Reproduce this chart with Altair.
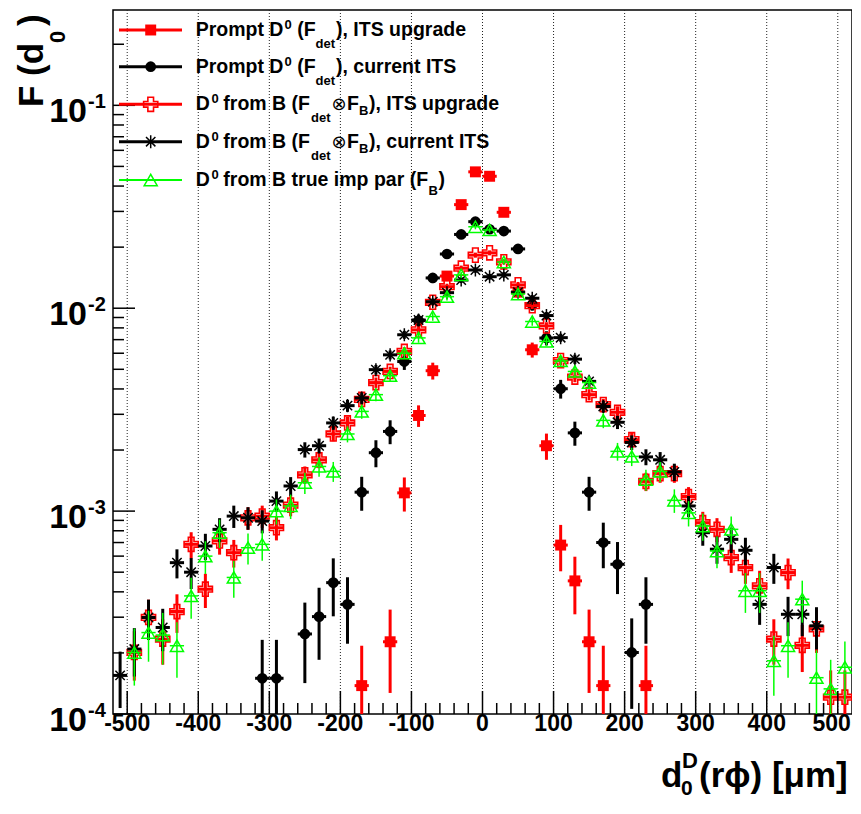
import altair as alt
import pandas as pd

# ---------------- data ----------------
# Prompt D0 (F_det), ITS upgrade  -- red filled squares
rs_x = [-170, -130, -110, -90, -70, -50, -30, -10, 10, 30, 50, 70, 90, 110, 130, 150, 170, 230]
rs_v = [0.000138, 0.000227, 0.00123, 0.00296, 0.00492, 0.0144, 0.0324, 0.047, 0.0447, 0.0297,
        0.012, 0.00624, 0.0021, 0.00068, 0.000453, 0.000227, 0.000138, 0.000138]
rs_e = [7.9e-5, 1.0e-4, 2.35e-4, 3.6e-4, 4.7e-4, 8e-4, 1.2e-3, 1.45e-3, 1.42e-3, 1.16e-3,
        7.3e-4, 5.3e-4, 3.1e-4, 1.75e-4, 1.43e-4, 1.0e-4, 7.9e-5, 7.9e-5]

# Prompt D0 (F_det), current ITS  -- black filled circles
bc_x = [-310, -290, -250, -230, -210, -190, -170, -150, -130, -110, -90, -70, -50, -30, -10,
        10, 30, 50, 70, 90, 110, 130, 150, 170, 190, 210, 230]
bc_v = [0.00015, 0.00015, 0.000248, 0.000302, 0.000444, 0.000347, 0.00124, 0.00194, 0.00247,
        0.00546, 0.00869, 0.0141, 0.0185, 0.0231, 0.0267, 0.0245, 0.024, 0.0196, 0.0104,
        0.00713, 0.00401, 0.00243, 0.00124, 0.0007, 0.000547, 0.000201, 0.000347]
bc_e = [8.2e-5, 8.2e-5, 1.06e-4, 1.17e-4, 1.41e-4, 1.25e-4, 2.36e-4, 2.95e-4, 3.33e-4, 4.96e-4,
        6.25e-4, 8e-4, 9.1e-4, 1.02e-3, 1.1e-3, 1.05e-3, 1.04e-3, 9.4e-4, 6.8e-4, 5.7e-4,
        4.25e-4, 3.3e-4, 2.36e-4, 1.77e-4, 1.57e-4, 9.5e-5, 1.25e-4]

# feed-down bins (centres, um)
fb_x = [-510, -490, -470, -450, -430, -410, -390, -370, -350, -330, -310, -290, -270,
        -250, -230, -210, -190, -170, -150, -130, -110, -90, -70, -50, -30, -10,
        10, 30, 50, 70, 90, 110, 130, 150, 170, 190, 210, 230, 250, 270, 290, 310,
        330, 350, 370, 390, 410, 430, 450, 470, 490, 510]

# D0 from B (F_det x F_B), ITS upgrade -- red open crosses
rc_v = [None, 0.000201, 0.000299, 0.000234, 0.00032, 0.000686, 0.000412, 0.000713, 0.000624,
        0.000927, 0.000945, 0.000828, 0.00107, 0.00151, 0.00179, 0.0024, 0.00272, 0.00355,
        0.0043, 0.00488, 0.00612, 0.00782, 0.0107, 0.01277, 0.01574, 0.01827, 0.01875,
        0.01694, 0.01303, 0.0103, 0.00818, 0.00552, 0.00458, 0.00375, 0.00335, 0.00307,
        0.00225, 0.0014, 0.00153, 0.00153, 0.00118, 0.000877, 0.000813, 0.00059, 0.000527,
        0.000428, 0.000234, 0.000498, 0.000218, 0.000263, 0.000121, 0.000121]
rc_e = [None, 5.5e-5, 6.7e-5, 5.9e-5, 6.9e-5, 1.01e-4, 7.9e-5, 1.03e-4, 9.7e-5, 1.18e-4,
        1.19e-4, 1.11e-4, 1.27e-4, 1.5e-4, 1.64e-4, 1.9e-4, 2.02e-4, 2.31e-4, 2.54e-4, 2.7e-4,
        3.03e-4, 3.42e-4, 4.0e-4, 4.38e-4, 4.86e-4, 5.23e-4, 5.3e-4, 5.04e-4, 4.42e-4, 3.93e-4,
        3.5e-4, 2.88e-4, 2.62e-4, 2.37e-4, 2.24e-4, 2.15e-4, 1.84e-4, 1.45e-4, 1.51e-4, 1.51e-4,
        1.33e-4, 1.15e-4, 1.1e-4, 9.4e-5, 8.9e-5, 8e-5, 5.9e-5, 8.6e-5, 5.7e-5, 6.3e-5,
        4.3e-5, 4.3e-5]

# D0 from B (F_det x F_B), current ITS -- black asterisks
as_v = [0.000155, 0.000209, 0.000299, 0.000267, 0.000557, 0.0005, 0.000673, 0.000813, 0.000945,
        0.000927, 0.000893, 0.00112, 0.00133, 0.00201, 0.0021, 0.00272, 0.00331, 0.00361,
        0.00498, 0.00589, 0.0074, 0.00875, 0.01077, 0.01193, 0.01377, 0.01543, 0.0143, 0.0146,
        0.012, 0.0112, 0.0092, 0.00716, 0.00561, 0.00436, 0.00328, 0.00274, 0.00218, 0.00185,
        0.00179, 0.00156, 0.00106, 0.000783, 0.000649, 0.000726, 0.000641, 0.000347, 0.000527,
        0.00031, 0.00031, 0.000272, None, None]
as_e = [4.8e-5, 5.6e-5, 6.7e-5, 6.3e-5, 9.1e-5, 8.7e-5, 1.0e-4, 1.1e-4, 1.19e-4, 1.18e-4,
        1.16e-4, 1.3e-4, 1.41e-4, 1.74e-4, 1.77e-4, 2.02e-4, 2.23e-4, 2.33e-4, 2.73e-4, 2.97e-4,
        3.33e-4, 3.62e-4, 4.0e-4, 4.23e-4, 4.54e-4, 4.81e-4, 4.63e-4, 4.68e-4, 4.24e-4, 4.1e-4,
        3.71e-4, 3.28e-4, 2.9e-4, 2.56e-4, 2.22e-4, 2.03e-4, 1.81e-4, 1.67e-4, 1.64e-4, 1.53e-4,
        1.26e-4, 1.08e-4, 9.9e-5, 1.04e-4, 9.8e-5, 7.2e-5, 8.9e-5, 6.8e-5, 6.8e-5, 6.4e-5,
        None, None]

# D0 from B true imp par (F_B) -- green open triangles
gt_v = [None, 0.000201, 0.000252, 0.000245, 0.000217, 0.000382, 0.0006, 0.000783, 0.000471,
        0.00066, 0.000686, 0.001, 0.00106, 0.00138, 0.00166, 0.00157, 0.0024, 0.0031, 0.00375,
        0.00465, 0.006, 0.00714, 0.0091, 0.0114, 0.0146, 0.0252, 0.0243, 0.0169, 0.01175,
        0.0086, 0.00686, 0.0055, 0.00488, 0.0043, 0.0028, 0.00197, 0.00186, 0.00143, 0.00157,
        0.00113, 0.00098, 0.000844, 0.000636, 0.000813, 0.000405, 0.000405, 0.000183, 0.000217,
        0.000368, 0.000151, 0.000133, 0.00017]
gt_e = [None, 6.3e-5, 7.1e-5, 7.0e-5, 6.6e-5, 8.7e-5, 1.1e-4, 1.25e-4, 9.7e-5, 1.15e-4,
        1.17e-4, 1.41e-4, 1.46e-4, 1.66e-4, 1.82e-4, 1.77e-4, 2.19e-4, 2.49e-4, 2.74e-4, 3.05e-4,
        3.46e-4, 3.78e-4, 4.27e-4, 4.77e-4, 5.4e-4, 7.1e-4, 6.97e-4, 5.81e-4, 4.85e-4, 4.15e-4,
        3.7e-4, 3.32e-4, 3.12e-4, 2.93e-4, 2.37e-4, 1.98e-4, 1.93e-4, 1.69e-4, 1.77e-4, 1.5e-4,
        1.4e-4, 1.3e-4, 1.13e-4, 1.27e-4, 9.0e-5, 9.0e-5, 6.0e-5, 6.6e-5, 8.6e-5, 5.5e-5,
        5.2e-5, 5.8e-5]

# axis ticks / labels
x_major = [-500, -400, -300, -200, -100, 0, 100, 200, 300, 400, 500]
x_minor = [-480, -460, -440, -420, -380, -360, -340, -320, -280, -260, -240, -220,
           -180, -160, -140, -120, -80, -60, -40, -20, 20, 40, 60, 80, 120, 140, 160, 180,
           220, 240, 260, 280, 320, 340, 360, 380, 420, 440, 460, 480]
x_labels = ["-500", "-400", "-300", "-200", "-100", "0", "100", "200", "300", "400", "500"]
y_major = [1e-4, 1e-3, 1e-2, 1e-1]
y_sup = ["-4", "-3", "-2", "-1"]
y_minor = [2e-4, 3e-4, 4e-4, 5e-4, 6e-4, 7e-4, 8e-4, 9e-4,
           2e-3, 3e-3, 4e-3, 5e-3, 6e-3, 7e-3, 8e-3, 9e-3,
           2e-2, 3e-2, 4e-2, 5e-2, 6e-2, 7e-2, 8e-2, 9e-2, 2e-1]

# ---------------- chart ----------------
W, H = 739, 704
FONT = "Liberation Sans"
RED, GREEN, BLACK = "#ff0000", "#00ff00", "#000000"
ASTER = "M-1,0L1,0M0,-1L0,1M-0.72,-0.72L0.72,0.72M-0.72,0.72L0.72,-0.72"

xs = alt.Scale(domain=[-520, 520], nice=False, zero=False)
ys = alt.Scale(type="log", domain=[1e-4, 0.295], nice=False)
one = pd.DataFrame({"a": [0]})


def frame(xv, vv, ev):
    rows = [(x, v, e) for x, v, e in zip(xv, vv, ev) if v is not None]
    df = pd.DataFrame(rows, columns=["x", "v", "e"])
    df["lo"] = (df["v"] - df["e"]).clip(lower=2e-5)
    df["hi"] = df["v"] + df["e"]
    df["xl"] = df["x"] - 10
    df["xr"] = df["x"] + 10
    return df


def series(df, color, shape, size, filled, sw, ebw):
    base = alt.Chart(df)
    vbar = base.mark_rule(color=color, strokeWidth=ebw, clip=True).encode(
        x=alt.X("x:Q", scale=xs, axis=None),
        y=alt.Y("lo:Q", scale=ys, axis=None), y2="hi:Q")
    hbar = base.mark_rule(color=color, strokeWidth=ebw, clip=True).encode(
        x=alt.X("xl:Q", scale=xs, axis=None), x2="xr:Q",
        y=alt.Y("v:Q", scale=ys, axis=None))
    pts = base.mark_point(shape=shape, size=size, filled=filled, color=color,
                          opacity=1, strokeWidth=sw, clip=True).encode(
        x=alt.X("x:Q", scale=xs, axis=None),
        y=alt.Y("v:Q", scale=ys, axis=None))
    return [vbar, hbar, pts]


def txt(s, x, y, size, font=FONT, weight="bold", align="left",
        baseline="alphabetic", angle=0):
    return alt.Chart(one).mark_text(
        text=s, font=font, fontSize=size, fontWeight=weight, align=align,
        baseline=baseline, angle=angle, color="black").encode(
        x=alt.value(x), y=alt.value(y))


layers = []

# grid (dotted verticals)
layers.append(alt.Chart(pd.DataFrame({"t": x_major})).mark_rule(
    color="#222222", strokeWidth=1, strokeDash=[1, 2]).encode(
    x=alt.X("t:Q", scale=xs, axis=None), y=alt.value(0), y2=alt.value(H)))

# data series in drawing order
layers += series(frame(rs_x, rs_v, rs_e), RED, "square", 120, True, 1, 3)
layers += series(frame(bc_x, bc_v, bc_e), BLACK, "circle", 115, True, 1, 3)
layers += series(frame(fb_x, rc_v, rc_e), RED, "cross", 200, False, 1.6, 3)
layers += series(frame(fb_x, as_v, as_e), BLACK, ASTER, 170, False, 1.5, 3)
layers += series(frame(fb_x, gt_v, gt_e), GREEN, "triangle-up", 170, False, 1.5, 1.5)

# axis ticks (inward, ROOT style)
layers.append(alt.Chart(pd.DataFrame({"t": x_major})).mark_rule(color="black", strokeWidth=1.5).encode(
    x=alt.X("t:Q", scale=xs, axis=None), y=alt.value(H), y2=alt.value(H - 23)))
layers.append(alt.Chart(pd.DataFrame({"t": x_minor})).mark_rule(color="black", strokeWidth=1.5).encode(
    x=alt.X("t:Q", scale=xs, axis=None), y=alt.value(H), y2=alt.value(H - 11)))
layers.append(alt.Chart(pd.DataFrame({"t": y_major})).mark_rule(color="black", strokeWidth=1.5).encode(
    y=alt.Y("t:Q", scale=ys, axis=None), x=alt.value(0), x2=alt.value(22)))
layers.append(alt.Chart(pd.DataFrame({"t": y_minor})).mark_rule(color="black", strokeWidth=1.5).encode(
    y=alt.Y("t:Q", scale=ys, axis=None), x=alt.value(0), x2=alt.value(11)))

# tick labels
xl_df = pd.DataFrame({"t": x_major, "lab": x_labels})
layers.append(alt.Chart(xl_df.iloc[:-1]).mark_text(
    font=FONT, fontSize=23, fontWeight="bold", baseline="middle", align="center", color="black").encode(
    x=alt.X("t:Q", scale=xs, axis=None), y=alt.value(H + 10), text="lab:N"))
layers.append(alt.Chart(xl_df.iloc[-1:]).mark_text(
    font=FONT, fontSize=23, fontWeight="bold", baseline="middle", align="right", dx=13, color="black").encode(
    x=alt.X("t:Q", scale=xs, axis=None), y=alt.value(H + 10), text="lab:N"))
ydf = pd.DataFrame({"t": y_major, "sup": y_sup, "ten": ["10"] * 4})
layers.append(alt.Chart(ydf).mark_text(
    font=FONT, fontSize=34, fontWeight="bold", baseline="middle", align="right", dy=7, color="black").encode(
    y=alt.Y("t:Q", scale=ys, axis=None), x=alt.value(-26), text="ten:N"))
layers.append(alt.Chart(ydf).mark_text(
    font=FONT, fontSize=20, fontWeight="bold", baseline="middle", align="left", dy=-3, color="black").encode(
    y=alt.Y("t:Q", scale=ys, axis=None), x=alt.value(-25), text="sup:N"))

# axis titles
layers.append(txt("F (d", -70, 97, 35, angle=270))
layers.append(txt("0", -48, 33, 22, angle=270))
layers.append(txt(")", -70, 16, 35, angle=270))

layers.append(txt("d", 548, 777, 35))
layers.append(txt("0", 568, 785, 21))
layers.append(txt("D", 569, 758, 22))
layers.append(txt("(r\u03d5)  [\u03bcm]", 586, 777, 35))

# legend
leg_y = [20, 56.7, 94.3, 131.7, 170]
leg_style = [
    (RED, "square", 120, True, 1, 3),
    (BLACK, "circle", 115, True, 1, 3),
    (RED, "cross", 200, False, 1.6, 3),
    (BLACK, ASTER, 170, False, 1.5, 3),
    (GREEN, "triangle-up", 170, False, 1.5, 1.8),
]
for yc, (c, shp, sz, fl, sw, lw) in zip(leg_y, leg_style):
    layers.append(alt.Chart(one).mark_rule(color=c, strokeWidth=lw).encode(
        x=alt.value(6), x2=alt.value(69), y=alt.value(yc)))
    layers.append(alt.Chart(one).mark_point(shape=shp, size=sz, filled=fl, color=c,
                                            opacity=1, strokeWidth=sw).encode(
        x=alt.value(37.7), y=alt.value(yc)))

LS, SS = 19.5, 13
for i, tail in enumerate(["), ITS upgrade", "), current ITS"]):
    b = leg_y[i] + 6
    layers += [txt("Prompt D", 82.7, b, LS), txt("0", 171.5, b - 7, SS),
               txt("(F", 184.3, b, LS), txt("det", 202.5, b + 12, SS),
               txt(tail, 223, b, LS)]
for i, tail in zip([2, 3], ["), ITS upgrade", "), current ITS"]):
    b = leg_y[i] + 6
    layers += [txt("D", 82.7, b, LS), txt("0", 98.5, b - 7, SS),
               txt("from B (F", 110.3, b, LS), txt("det", 198, b + 12, SS),
               txt("\u2297", 218.5, b, 18, font="DejaVu Sans", weight="normal"),
               txt("F", 234, b, LS), txt("B", 246, b + 5, SS),
               txt(tail, 256, b, LS)]
b = leg_y[4] + 6
layers += [txt("D", 82.7, b, LS), txt("0", 98.5, b - 7, SS),
           txt("from B true imp par (F", 110.3, b, LS), txt("B", 315.5, b + 9, SS),
           txt(")", 325.5, b, LS)]

chart = alt.layer(*layers).properties(
    width=W, height=H,
    autosize=alt.AutoSizeParams(type="none"),
    padding={"left": 105, "top": 2, "right": 0, "bottom": 86},
).configure_view(stroke="black", strokeWidth=1.5)

chart.save("out.html", embed_options={"renderer": "svg", "actions": False})
